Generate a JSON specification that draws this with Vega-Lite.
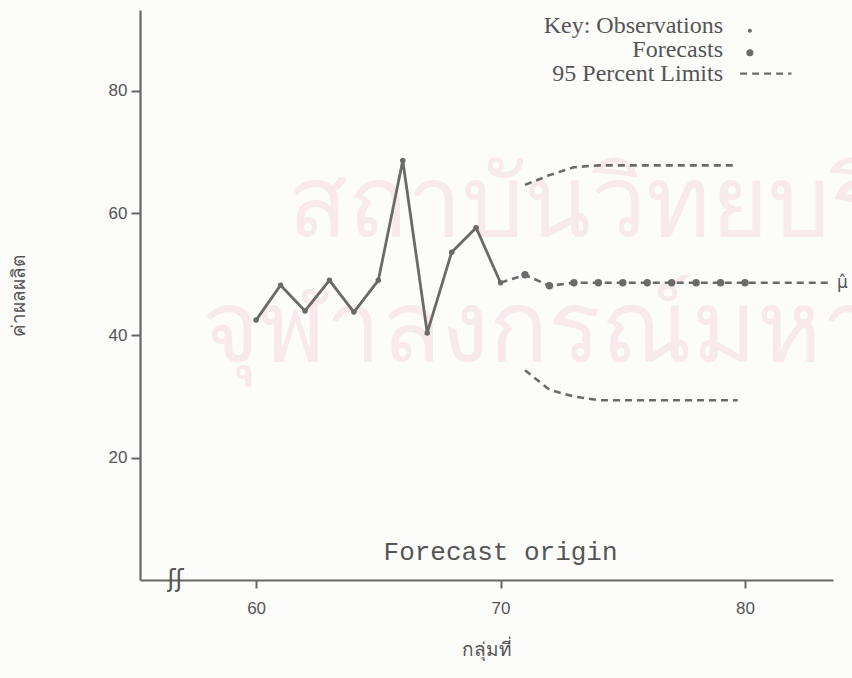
{
  "$schema": "https://vega.github.io/schema/vega-lite/v6.json",
  "width": 693,
  "height": 570,
  "autosize": {"type": "none"},
  "padding": {"left": 140, "top": 10, "right": 19, "bottom": 98},
  "background": "#fcfcfb",
  "config": {"view": {"stroke": null}, "font": "Liberation Sans"},
  "datasets": {
    "observations": [
      {"t": 60, "v": 42.5},
      {"t": 61, "v": 48.2},
      {"t": 62, "v": 44.0},
      {"t": 63, "v": 49.0},
      {"t": 64, "v": 43.8},
      {"t": 65, "v": 49.0},
      {"t": 66, "v": 68.6},
      {"t": 67, "v": 40.4},
      {"t": 68, "v": 53.6},
      {"t": 69, "v": 57.6},
      {"t": 70, "v": 48.6}
    ],
    "trend": [
      {"t": 70, "v": 48.6, "kind": "origin"},
      {"t": 71, "v": 49.9, "kind": "forecast"},
      {"t": 72, "v": 48.1, "kind": "forecast"},
      {"t": 73, "v": 48.6, "kind": "forecast"},
      {"t": 74, "v": 48.6, "kind": "forecast"},
      {"t": 75, "v": 48.6, "kind": "forecast"},
      {"t": 76, "v": 48.6, "kind": "forecast"},
      {"t": 77, "v": 48.6, "kind": "forecast"},
      {"t": 78, "v": 48.6, "kind": "forecast"},
      {"t": 79, "v": 48.6, "kind": "forecast"},
      {"t": 80, "v": 48.6, "kind": "forecast"},
      {"t": 83.4, "v": 48.6, "kind": "mean"}
    ],
    "limits": [
      {"t": 71, "bound": "upper", "v": 64.6},
      {"t": 72, "bound": "upper", "v": 66.2},
      {"t": 73, "bound": "upper", "v": 67.5},
      {"t": 74, "bound": "upper", "v": 67.8},
      {"t": 79.7, "bound": "upper", "v": 67.8},
      {"t": 71, "bound": "lower", "v": 34.3},
      {"t": 72, "bound": "lower", "v": 31.1},
      {"t": 73, "bound": "lower", "v": 30.0},
      {"t": 74, "bound": "lower", "v": 29.4},
      {"t": 79.7, "bound": "lower", "v": 29.4}
    ]
  },
  "layer": [
    {
      "data": {"values": [{}]},
      "mark": {"type": "text", "align": "left", "baseline": "middle", "fontSize": 98, "color": "#f7e9ec", "font": "Noto Sans"},
      "encoding": {
        "x": {"datum": 61.3, "type": "quantitative"},
        "y": {"datum": 61.0, "type": "quantitative"},
        "text": {"value": "สถาบันวิทยบริการ"}
      }
    },
    {
      "data": {"values": [{}]},
      "mark": {"type": "text", "align": "left", "baseline": "middle", "fontSize": 98, "color": "#f7e9ec", "font": "Noto Sans"},
      "encoding": {
        "x": {"datum": 57.8, "type": "quantitative"},
        "y": {"datum": 40.5, "type": "quantitative"},
        "text": {"value": "จุฬาลงกรณ์มหาวิทยาลัย"}
      }
    },
    {
      "data": {"name": "observations"},
      "mark": {"type": "line", "strokeWidth": 2.8, "color": "#6a6a6a", "point": {"filled": true, "size": 30, "color": "#6a6a6a", "opacity": 1}},
      "encoding": {
        "x": {
          "field": "t",
          "type": "quantitative",
          "scale": {"domain": [55.25, 83.6], "nice": false, "zero": false},
          "axis": {
            "values": [60, 70, 80],
            "grid": false,
            "tickSize": 8,
            "tickWidth": 2,
            "tickColor": "#666666",
            "domainColor": "#666666",
            "domainWidth": 2.2,
            "labelFontSize": 17,
            "labelColor": "#555555",
            "labelPadding": 12,
            "title": "กลุ่มที่",
            "titleFontSize": 19,
            "titleFontWeight": "normal",
            "titleColor": "#555555",
            "titlePadding": 24
          }
        },
        "y": {
          "field": "v",
          "type": "quantitative",
          "scale": {"domain": [0, 93.2], "nice": false, "zero": false},
          "axis": {
            "values": [20, 40, 60, 80],
            "grid": false,
            "tickSize": 9,
            "tickWidth": 2,
            "tickColor": "#666666",
            "domainColor": "#666666",
            "domainWidth": 2.2,
            "labelFontSize": 17,
            "labelColor": "#555555",
            "labelPadding": 4,
            "title": "ค่าผลผลิต",
            "titleFontSize": 19,
            "titleFontWeight": "normal",
            "titleColor": "#555555",
            "titlePadding": 80
          }
        }
      }
    },
    {
      "data": {"name": "limits"},
      "mark": {"type": "line", "strokeDash": [7, 5], "strokeWidth": 2.6, "color": "#6a6a6a"},
      "encoding": {
        "x": {"field": "t", "type": "quantitative", "scale": {"domain": [55.25, 83.6], "nice": false, "zero": false}},
        "y": {"field": "v", "type": "quantitative", "scale": {"domain": [0, 93.2], "nice": false, "zero": false}},
        "detail": {"field": "bound"}
      }
    },
    {
      "data": {"name": "trend"},
      "mark": {"type": "line", "strokeDash": [7, 5], "strokeWidth": 2.6, "color": "#6a6a6a"},
      "encoding": {
        "x": {"field": "t", "type": "quantitative", "scale": {"domain": [55.25, 83.6], "nice": false, "zero": false}},
        "y": {"field": "v", "type": "quantitative", "scale": {"domain": [0, 93.2], "nice": false, "zero": false}}
      }
    },
    {
      "data": {"name": "trend"},
      "transform": [{"filter": "datum.kind === 'forecast'"}],
      "mark": {"type": "point", "filled": true, "size": 55, "color": "#6a6a6a", "opacity": 1},
      "encoding": {
        "x": {"field": "t", "type": "quantitative", "scale": {"domain": [55.25, 83.6], "nice": false, "zero": false}},
        "y": {"field": "v", "type": "quantitative", "scale": {"domain": [0, 93.2], "nice": false, "zero": false}}
      }
    },
    {
      "data": {"values": [{}]},
      "mark": {"type": "text", "align": "left", "baseline": "middle", "fontSize": 17, "color": "#555555", "dx": 4, "font": "DejaVu Sans"},
      "encoding": {
        "x": {"datum": 83.6, "type": "quantitative"},
        "y": {"datum": 48.6, "type": "quantitative"},
        "text": {"value": "μ̂"}
      }
    },
    {
      "data": {"values": [{}]},
      "mark": {"type": "text", "align": "center", "baseline": "middle", "fontSize": 26, "color": "#555555", "font": "Liberation Mono"},
      "encoding": {
        "x": {"datum": 70, "type": "quantitative"},
        "y": {"datum": 4.6, "type": "quantitative"},
        "text": {"value": "Forecast origin"}
      }
    },
    {
      "data": {"values": [{}]},
      "mark": {"type": "text", "align": "center", "baseline": "middle", "fontSize": 24, "color": "#555555", "font": "DejaVu Sans"},
      "encoding": {
        "x": {"datum": 56.7, "type": "quantitative"},
        "y": {"datum": 0, "type": "quantitative"},
        "text": {"value": "ʃʃ"}
      }
    },
    {
      "data": {"values": [{}]},
      "mark": {"type": "text", "align": "right", "baseline": "middle", "fontSize": 24, "color": "#555555", "font": "Liberation Serif"},
      "encoding": {
        "x": {"datum": 79.1, "type": "quantitative"},
        "y": {"datum": 90.6, "type": "quantitative"},
        "text": {"value": "Key: Observations"}
      }
    },
    {
      "data": {"values": [{}]},
      "mark": {"type": "text", "align": "right", "baseline": "middle", "fontSize": 24, "color": "#555555", "font": "Liberation Serif"},
      "encoding": {
        "x": {"datum": 79.1, "type": "quantitative"},
        "y": {"datum": 86.7, "type": "quantitative"},
        "text": {"value": "Forecasts"}
      }
    },
    {
      "data": {"values": [{}]},
      "mark": {"type": "text", "align": "right", "baseline": "middle", "fontSize": 24, "color": "#555555", "font": "Liberation Serif"},
      "encoding": {
        "x": {"datum": 79.1, "type": "quantitative"},
        "y": {"datum": 82.8, "type": "quantitative"},
        "text": {"value": "95 Percent Limits"}
      }
    },
    {
      "data": {"values": [{}]},
      "mark": {"type": "point", "filled": true, "size": 16, "color": "#6a6a6a", "opacity": 1},
      "encoding": {
        "x": {"datum": 80.2, "type": "quantitative"},
        "y": {"datum": 89.8, "type": "quantitative"}
      }
    },
    {
      "data": {"values": [{}]},
      "mark": {"type": "point", "filled": true, "size": 50, "color": "#6a6a6a", "opacity": 1},
      "encoding": {
        "x": {"datum": 80.2, "type": "quantitative"},
        "y": {"datum": 86.2, "type": "quantitative"}
      }
    },
    {
      "data": {"values": [{}]},
      "mark": {"type": "rule", "strokeDash": [7, 5], "strokeWidth": 2.4, "color": "#6a6a6a"},
      "encoding": {
        "x": {"datum": 79.8, "type": "quantitative"},
        "x2": {"datum": 81.9},
        "y": {"datum": 82.8, "type": "quantitative"}
      }
    }
  ]
}
